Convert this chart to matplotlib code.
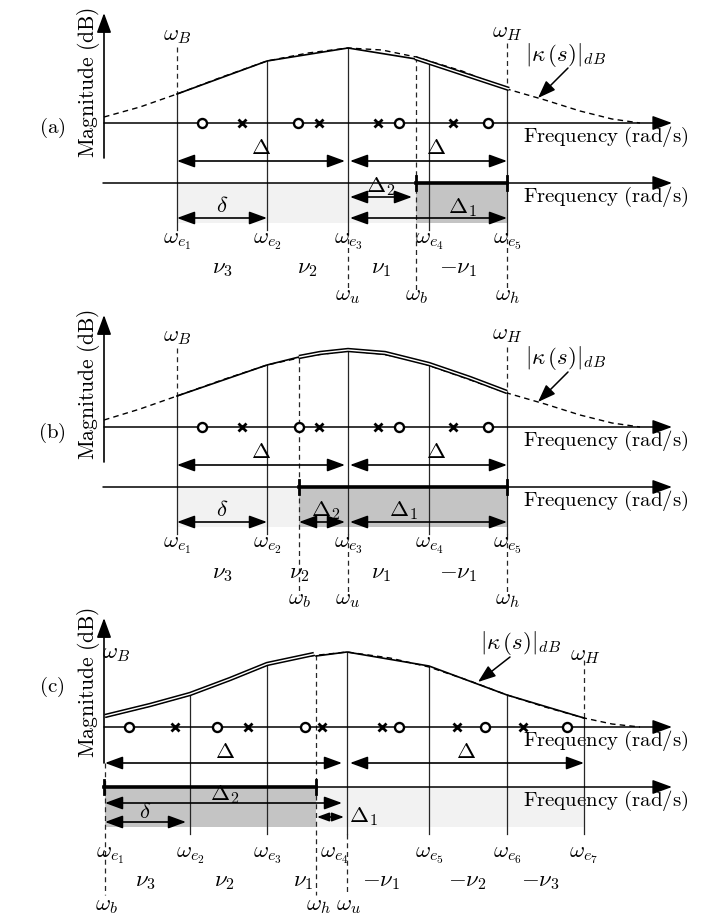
import matplotlib.pyplot as plt
import numpy as np

plt.rcParams['mathtext.fontset'] = 'cm'

# panel (a): positions along the frequency axis, heights above it
a_y0 = 123
a_true_x = [104, 140, 177, 222, 267, 308, 348, 382, 416, 462, 507, 545, 580, 612, 640]
a_true_h = [6, 16, 29, 46, 62, 70, 75, 73, 66, 52, 34, 23, 12, 4, 0]
a_fit_x = [177, 267, 348, 416]
a_fit_h = [29, 62, 75, 64]
a_dbl_x = [415, 509]
a_dbl_h = [65, 34]
a_we = [177, 267, 348, 429, 507]
a_zeros = [202, 298, 399, 488]
a_poles = [242, 319, 378, 453]
a_nu_x = [222, 307, 381, 458]

# panel (b)
b_y0 = 427
b_true_x = [104, 140, 177, 222, 267, 308, 348, 382, 416, 462, 507, 545, 580, 612, 640]
b_true_h = [7, 18, 31, 47, 62, 71, 76, 73, 66, 50, 34, 23, 12, 4, 0]
b_fit_x = [177, 267, 299]
b_fit_h = [31, 62, 70]
b_dbl_x = [299, 320, 348, 385, 429, 470, 507]
b_dbl_h = [70, 74, 77, 74, 63, 49, 35]
b_we = [177, 267, 348, 429, 507]
b_zeros = [202, 299, 399, 488]
b_poles = [242, 319, 378, 453]
b_nu_x = [222, 299, 381, 458]

# panel (c)
c_y0 = 727
c_true_x = [105, 150, 190, 230, 267, 300, 347, 390, 429, 470, 507, 545, 584, 612, 640]
c_true_h = [10, 21, 32, 47, 62, 70, 75, 69, 60, 46, 32, 20, 9, 3, 0]
c_fit_x = [316, 347, 429, 507, 584]
c_fit_h = [71, 75, 61, 32, 9]
c_dbl_x = [105, 150, 190, 230, 267, 314]
c_dbl_h = [11, 22, 33, 48, 63, 73]
c_we = [105, 190, 267, 347, 429, 507, 584]
c_zeros = [129, 217, 305, 399, 485, 567]
c_poles = [175, 248, 322, 382, 457, 523]
c_nu_x = [145, 224, 303, 381, 467, 540]

we_labels = [r'$\omega_{e_%d}$' % i for i in range(1, 8)]
nu_ab = [r'$\nu_3$', r'$\nu_2$', r'$\nu_1$', r'$-\nu_1$']
nu_c = [r'$\nu_3$', r'$\nu_2$', r'$\nu_1$', r'$-\nu_1$', r'$-\nu_2$', r'$-\nu_3$']

DASH = (0, (4, 3))
FS = 16.5
TS = 15

fig = plt.figure(figsize=(7.12, 9.17), dpi=100)
ax = fig.add_axes([0, 0, 1, 1])
ax.set_xlim(0, 712)
ax.set_ylim(917, 0)
ax.axis('off')


def rm(s):
	return r'$\mathrm{' + s.replace(' ', r'\ ') + '}$'


def arrow(x1, y1, x2, y2, both=False, lw=1.2, ms=18):
	style = '<|-|>' if both else '-|>'
	ax.annotate('', xy=(x2, y2), xytext=(x1, y1),
				arrowprops=dict(arrowstyle=style + ',head_length=0.6,head_width=0.22',
								color='k', lw=lw, mutation_scale=ms,
								shrinkA=0, shrinkB=0), zorder=6)


def level(x, y0, xs, hs):
	return y0 - np.interp(x, xs, hs)


def vline(x, y1, y2, dashed=False):
	ax.plot([x, x], [y1, y2], color='0.15', lw=0.9,
			ls=DASH if dashed else '-', zorder=3)


def axes_frame(y0, top, bottom, mag_y, tag, tag_y):
	arrow(104, y0 + bottom, 104, y0 - top, lw=1.2, ms=20)
	arrow(104, y0, 672, y0, lw=1.1, ms=20)
	arrow(103, y0 + 60, 672, y0 + 60, lw=1.1, ms=20)
	ax.text(523, y0 + 14, rm('Frequency (rad/s)'), fontsize=TS, va='center')
	ax.text(523, y0 + 74, rm('Frequency (rad/s)'), fontsize=TS, va='center')
	ax.text(88, mag_y, rm('Magnitude (dB)'), fontsize=15.5, rotation=90,
			ha='center', va='center')
	ax.text(52, tag_y, rm(tag), fontsize=TS, ha='center', va='center')


def curves(y0, tx, th, fx, fh, dx, dh):
	ax.plot(tx, [y0 - h for h in th], color='k', lw=1.0, ls=DASH, zorder=4)
	ax.plot(fx, [y0 - h for h in fh], color='k', lw=1.2, zorder=4)
	ax.plot(dx, [y0 - h for h in dh], color='k', lw=3.2, zorder=4,
			solid_capstyle='butt')
	ax.plot(dx, [y0 - h for h in dh], color='white', lw=1.0, zorder=4,
			solid_capstyle='butt')


def roots(y0, zeros, poles):
	ax.plot(zeros, [y0] * len(zeros), 'o', mfc='white', mec='k', ms=6.5,
			mew=1.7, zorder=7)
	ax.plot(poles, [y0] * len(poles), 'x', color='k', ms=6, mew=2, zorder=7)


def shade(y0, x1, x2, color):
	ax.fill_between([x1, x2], y0 + 60, y0 + 100, color=color, lw=0, zorder=1)


def thick(y0, x1, x2):
	ax.plot([x1, x2], [y0 + 60, y0 + 60], color='k', lw=2.6, zorder=5)
	for x in (x1, x2):
		ax.plot([x, x], [y0 + 53, y0 + 67], color='k', lw=2, zorder=5)


def kappa(x, y, x1, y1, x2, y2):
	ax.text(x, y, r'$|\kappa\,(s)|_{dB}$', fontsize=FS,
			ha='center', va='center')
	arrow(x1, y1, x2, y2, lw=1.1)


def label(x, y, s, ha='center'):
	ax.text(x, y, s, fontsize=FS, ha=ha, va='center')


# ---------------- (a) ----------------
y0 = a_y0
shade(y0, 177, 416, '#f2f2f2')
shade(y0, 416, 507, '#c4c4c4')
axes_frame(y0, 110, 35, 82, '(a)', 128)
for x in a_we:
	vline(x, level(x, y0, a_true_x, a_true_h), y0 + 107)
vline(177, y0 - 76, level(177, y0, a_true_x, a_true_h), True)
vline(507, y0 - 80, level(507, y0, a_true_x, a_true_h), True)
vline(348, y0 + 107, y0 + 168, True)
vline(416, level(416, y0, a_true_x, a_true_h), y0 + 168, True)
vline(507, y0 + 107, y0 + 168, True)
curves(y0, a_true_x, a_true_h, a_fit_x, a_fit_h, a_dbl_x, a_dbl_h)
roots(y0, a_zeros, a_poles)
thick(y0, 416, 507)
arrow(177, y0 + 38, 345, y0 + 38, True)
arrow(350, y0 + 38, 507, y0 + 38, True)
label(261, y0 + 25, r'$\Delta$')
label(436, y0 + 25, r'$\Delta$')
arrow(350, y0 + 74, 412, y0 + 74, True)
label(381, y0 + 64, r'$\Delta_2$')
arrow(177, y0 + 95, 267, y0 + 95, True)
label(222, y0 + 82, r'$\delta$')
arrow(350, y0 + 95, 507, y0 + 95, True)
label(462, y0 + 85, r'$\Delta_1$')
for x, s in zip(a_we, we_labels):
	label(x, y0 + 117, s)
for x, s in zip(a_nu_x, nu_ab):
	label(x, y0 + 145, s)
label(348, y0 + 172, r'$\omega_u$')
label(416, y0 + 172, r'$\omega_b$')
label(507, y0 + 172, r'$\omega_h$')
label(177, y0 - 88, r'$\omega_B$')
label(507, y0 - 91, r'$\omega_H$')
kappa(566, y0 - 68, 568, y0 - 55, 538, y0 - 25)

# ---------------- (b) ----------------
y0 = b_y0
shade(y0, 177, 299, '#f2f2f2')
shade(y0, 299, 507, '#c4c4c4')
axes_frame(y0, 112, 35, 384, '(b)', 433)
for x in b_we:
	vline(x, level(x, y0, b_true_x, b_true_h), y0 + 107)
vline(177, y0 - 79, level(177, y0, b_true_x, b_true_h), True)
vline(507, y0 - 80, level(507, y0, b_true_x, b_true_h), True)
vline(348, y0 + 107, y0 + 168, True)
vline(299, level(299, y0, b_true_x, b_true_h), y0 + 168, True)
vline(507, y0 + 107, y0 + 168, True)
curves(y0, b_true_x, b_true_h, b_fit_x, b_fit_h, b_dbl_x, b_dbl_h)
roots(y0, b_zeros, b_poles)
thick(y0, 299, 507)
arrow(177, y0 + 38, 345, y0 + 38, True)
arrow(350, y0 + 38, 507, y0 + 38, True)
label(261, y0 + 25, r'$\Delta$')
label(436, y0 + 25, r'$\Delta$')
arrow(177, y0 + 95, 267, y0 + 95, True)
label(222, y0 + 82, r'$\delta$')
arrow(299, y0 + 95, 345, y0 + 95, True)
label(326, y0 + 83, r'$\Delta_2$')
arrow(350, y0 + 95, 507, y0 + 95, True)
label(403, y0 + 83, r'$\Delta_1$')
for x, s in zip(b_we, we_labels):
	label(x, y0 + 118, s)
for x, s in zip(b_nu_x, nu_ab):
	label(x, y0 + 145, s)
label(299, y0 + 171, r'$\omega_b$')
label(348, y0 + 171, r'$\omega_u$')
label(507, y0 + 171, r'$\omega_h$')
label(177, y0 - 91, r'$\omega_B$')
label(507, y0 - 93, r'$\omega_H$')
kappa(566, y0 - 69, 568, y0 - 55, 538, y0 - 25)

# ---------------- (c) ----------------
y0 = c_y0
shade(y0, 105, 316, '#c4c4c4')
shade(y0, 316, 584, '#f2f2f2')
axes_frame(y0, 109, 36, 682, '(c)', 687)
for x in c_we[1:]:
	vline(x, level(x, y0, c_true_x, c_true_h), y0 + 107)
vline(105, y0 + 36, y0 + 168, True)
vline(584, y0 - 67, level(584, y0, c_true_x, c_true_h), True)
vline(316, level(316, y0, c_true_x, c_true_h), y0 + 168, True)
vline(347, y0 + 107, y0 + 168, True)
curves(y0, c_true_x, c_true_h, c_fit_x, c_fit_h, c_dbl_x, c_dbl_h)
roots(y0, c_zeros, c_poles)
thick(y0, 104, 316)
arrow(105, y0 + 36, 342, y0 + 36, True)
arrow(350, y0 + 36, 584, y0 + 36, True)
label(225, y0 + 24, r'$\Delta$')
label(466, y0 + 24, r'$\Delta$')
arrow(105, y0 + 76, 342, y0 + 76, True)
label(225, y0 + 67, r'$\Delta_2$')
arrow(105, y0 + 95, 186, y0 + 95, True)
label(145, y0 + 85, r'$\delta$')
arrow(317, y0 + 90, 344, y0 + 90, True, ms=12)
label(349, y0 + 90, r'$\Delta_1$', ha='left')
c_we_lx = [110, 190, 267, 334, 429, 507, 584]
for x, s in zip(c_we_lx, we_labels):
	label(x, y0 + 128, s)
for x, s in zip(c_nu_x, nu_c):
	label(x, y0 + 153, s)
label(106, y0 + 178, r'$\omega_b$')
label(318, y0 + 178, r'$\omega_h$')
label(349, y0 + 178, r'$\omega_u$')
label(102, y0 - 74, r'$\omega_B$', ha='left')
label(585, y0 - 72, r'$\omega_H$')
kappa(521, y0 - 84, 510, y0 - 70, 478, y0 - 45)

fig.savefig('out.png', dpi=100)
